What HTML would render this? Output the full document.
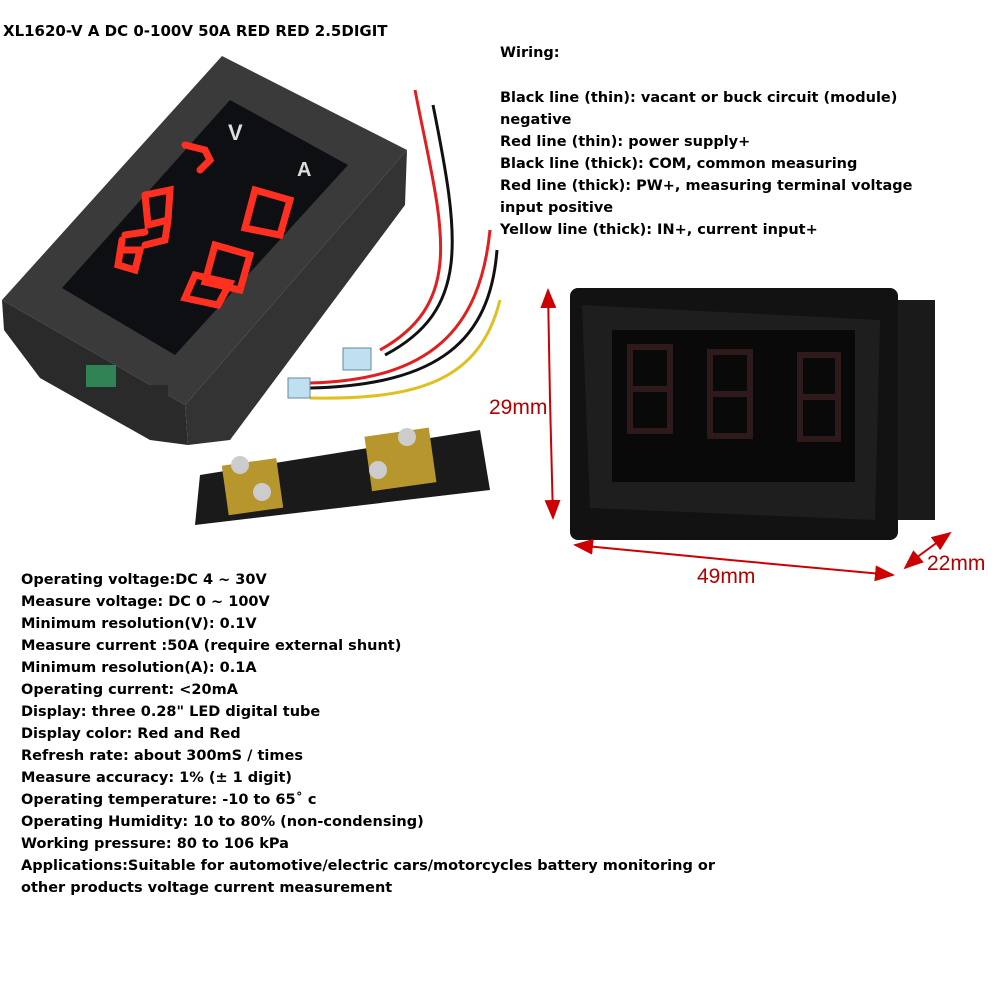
<!DOCTYPE html>
<html><head><meta charset="utf-8"><style>
body{margin:0;width:1000px;height:1000px;background:#fff;position:relative;overflow:hidden;font-family:"DejaVu Sans",sans-serif}
.t{position:absolute;font-weight:bold;font-size:14.5px;color:#000;white-space:nowrap;line-height:22px}
.d{position:absolute;font-size:21px;color:#b00000;white-space:nowrap;font-family:"Liberation Sans",sans-serif}
svg{position:absolute;left:0;top:0}
</style></head><body>
<svg width="1000" height="1000" viewBox="0 0 1000 1000">
<defs><marker id="a" markerWidth="10" markerHeight="8" refX="9" refY="4" orient="auto"><path d="M0,0L10,4L0,8z" fill="#c00"/></marker></defs>
<polygon points="2,300 185,405 188,445 150,440 40,378 4,330" fill="#2a2a2a"/>
<polygon points="185,405 407,150 405,205 230,440 188,445" fill="#333"/>
<polygon points="222,56 407,150 185,405 2,300" fill="#3a3a3a"/>
<polygon points="230,100 348,165 175,355 62,288" fill="#0d0f12"/>
<rect x="150" y="385" width="18" height="50" fill="#2a2a2a"/>
<rect x="86" y="365" width="30" height="22" fill="#3a6" opacity=".7"/>
<g fill="none" stroke="#ff3020" stroke-width="7" stroke-linecap="round">
<path d="M185,145 L205,150 L210,160 L200,170"/>
<path d="M145,195 L170,190 L168,220 L148,225 L145,195 M168,220 L165,240 L145,245"/>
<path d="M125,235 L145,232 M122,240 L118,265 L135,270 L140,250 L122,250"/>
<path d="M255,190 L290,200 L280,235 L245,228 Z"/>
<path d="M215,245 L250,255 L240,290 L205,282 Z"/>
<path d="M195,275 L230,283 L218,305 L185,298 Z"/>
</g>
<text x="228" y="140" fill="#ddd" font-size="22" font-weight="bold" font-family="Liberation Sans">V</text>
<text x="297" y="176" fill="#ddd" font-size="20" font-weight="bold" font-family="Liberation Sans">A</text>
<g fill="none" stroke-width="3">
<path d="M415,90 C440,220 470,300 380,350" stroke="#e02020"/>
<path d="M433,105 C460,240 470,310 385,355" stroke="#111"/>
<path d="M490,230 C480,330 430,380 310,383" stroke="#e02020"/>
<path d="M497,250 C490,340 440,385 310,388" stroke="#111"/>
<path d="M500,300 C480,380 420,400 310,398" stroke="#e0c020"/>
</g>
<rect x="343" y="348" width="28" height="22" fill="#bfe0f0" stroke="#689" />
<rect x="288" y="378" width="22" height="20" fill="#bfe0f0" stroke="#689"/>
<polygon points="200,475 480,430 490,490 195,525" fill="#1a1a1a"/>
<rect x="225" y="462" width="55" height="50" fill="#b8962e" transform="rotate(-8 250 487)"/>
<rect x="368" y="432" width="65" height="55" fill="#b8962e" transform="rotate(-8 400 460)"/>
<circle cx="240" cy="465" r="9" fill="#ccc"/><circle cx="262" cy="492" r="9" fill="#ccc"/>
<circle cx="407" cy="437" r="9" fill="#ccc"/><circle cx="378" cy="470" r="9" fill="#ccc"/>
<rect x="898" y="300" width="37" height="220" fill="#1a1a1a"/>
<rect x="570" y="288" width="328" height="252" rx="8" fill="#121212"/>
<polygon points="582,305 880,320 875,520 590,508" fill="#1e1e1e"/>
<rect x="612" y="330" width="243" height="152" fill="#0a0909"/>
<g fill="none" stroke="#2e1a1a" stroke-width="6">
<path d="M630,347h40v42h-40zM630,389h40v42h-40z"/>
<path d="M710,352h40v42h-40zM710,394h40v42h-40z"/>
<path d="M800,355h38v42h-38zM800,397h38v42h-38z"/>
</g>
<g stroke="#c00" stroke-width="2" fill="none">
<line x1="550" y1="400" x2="548" y2="290" marker-end="url(#a)"/>
<line x1="550" y1="400" x2="553" y2="518" marker-end="url(#a)"/>
<line x1="730" y1="560" x2="575" y2="545" marker-end="url(#a)"/>
<line x1="730" y1="560" x2="893" y2="575" marker-end="url(#a)"/>
<line x1="920" y1="555" x2="950" y2="533" marker-end="url(#a)"/>
<line x1="920" y1="555" x2="905" y2="568" marker-end="url(#a)"/>
</g>
</svg>
<div class="t" style="left:3px;top:20px;font-size:15px">XL1620-V A DC 0-100V 50A RED RED 2.5DIGIT</div>
<div class="t" style="left:500px;top:42px">Wiring:</div>
<div class="t" style="left:500px;top:87px">Black line (thin): vacant or buck circuit (module)<br>negative<br>Red line (thin): power supply+<br>Black line (thick): COM, common measuring<br>Red line (thick): PW+, measuring terminal voltage<br>input positive<br>Yellow line (thick): IN+, current input+</div>
<div class="d" style="left:489px;top:396px">29mm</div>
<div class="d" style="left:697px;top:565px">49mm</div>
<div class="d" style="left:927px;top:552px">22mm</div>
<div class="t" style="left:21px;top:569px">Operating voltage:DC 4 ~ 30V<br>Measure voltage: DC 0 ~ 100V<br>Minimum resolution(V): 0.1V<br>Measure current :50A (require external shunt)<br>Minimum resolution(A): 0.1A<br>Operating current: &lt;20mA<br>Display: three 0.28" LED digital tube<br>Display color: Red and Red<br>Refresh rate: about 300mS / times<br>Measure accuracy: 1% (± 1 digit)<br>Operating temperature: -10 to 65˚ c<br>Operating Humidity: 10 to 80% (non-condensing)<br>Working pressure: 80 to 106 kPa<br>Applications:Suitable for automotive/electric cars/motorcycles battery monitoring or<br>other products voltage current measurement</div>
</body></html>
